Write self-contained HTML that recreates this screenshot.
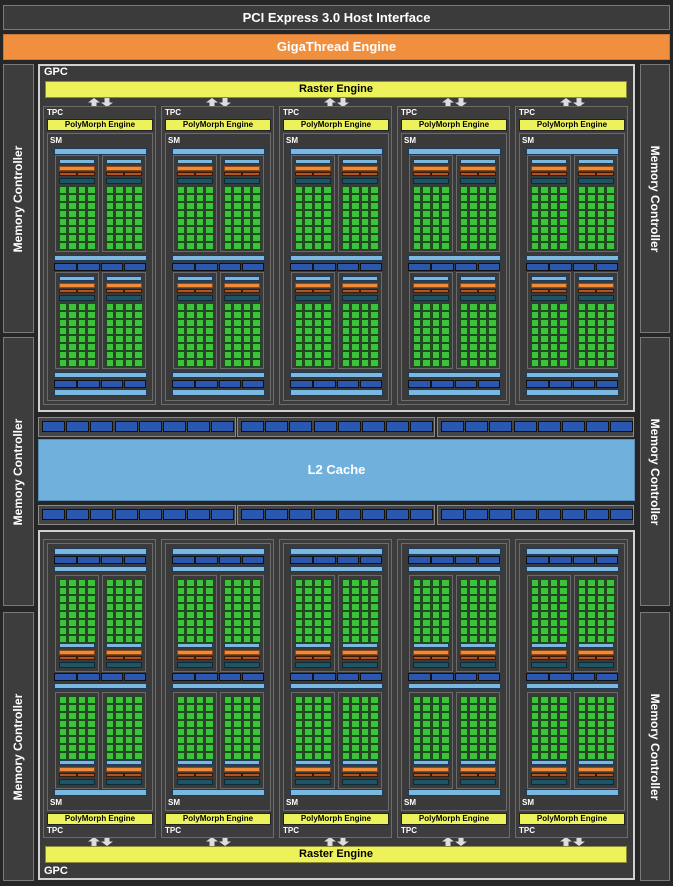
<!DOCTYPE html>
<html><head><meta charset="utf-8">
<style>
html,body{margin:0;padding:0;background:#262626;width:673px;height:886px;overflow:hidden}
#c{position:relative;width:673px;height:886px;font-family:"Liberation Sans",sans-serif;font-weight:bold}
#c div{position:absolute;box-sizing:border-box}
#c svg{display:block}
.t{color:#fff;white-space:nowrap}
</style></head><body><div id="c"></div>
<script>
var h='';
function R(x,y,w,hh,bg,bd,extra){h+='<div style="left:'+x+'px;top:'+y+'px;width:'+w+'px;height:'+hh+'px;background:'+bg+';'+(bd?'border:1px solid '+bd+';':'')+(extra||'')+'"></div>';}
function T(x,y,w,hh,txt,size,col,extra){h+='<div class="t" style="left:'+x+'px;top:'+y+'px;width:'+w+'px;height:'+hh+'px;line-height:'+hh+'px;font-size:'+size+'px;color:'+col+';'+(extra||'')+'">'+txt+'</div>';}
R(3,5,667,25,'#3b3b3b','#7a7a7a');
T(3,5,667,25,'PCI Express 3.0 Host Interface',13,'#fff','text-align:center');
R(3,34,667,26,'#f0903f','#c9773a');
T(3,34,667,26,'GigaThread Engine',13,'#fff','text-align:center');
var mcy=[[64,269],[337,269],[612,269]];
for(var k=0;k<3;k++){
 R(3,mcy[k][0],31,mcy[k][1],'#3d3d3d','#7a7a7a');
 R(640,mcy[k][0],30,mcy[k][1],'#3d3d3d','#7a7a7a');
 var cy=mcy[k][0]+mcy[k][1]/2;
 T(18-100,cy-8,200,16,'Memory Controller',12,'#fff','text-align:center;transform:rotate(-90deg)');
 T(655-100,cy-8,200,16,'Memory Controller',12,'#fff','text-align:center;transform:rotate(90deg)');
}
function XB(y){
 var segs=[[38,198],[237,198],[437,197]];
 for(var s=0;s<3;s++){
  R(segs[s][0],y,segs[s][1],20,'#444','#8a8a8a');
  for(var j=0;j<8;j++)R(segs[s][0]+4+j*24.2,y+4,23,11,'#2a58b0','#111');
 }
}
XB(417);XB(505);
R(38,439,597,62,'#6fb0dc','#5a8fb5');
T(38,439,597,62,'L2 Cache',13,'#fff','text-align:center');
var LB='#7ab8e0',LBB='#1f3b5c',BL='#2a58b0',GR='#3ac43a';
function cluster(x,y,top){
 R(x,y,44,97,'#3a3a3a','#6a6a6a');
 var g,o;
 if(top){o=y;g=y+31;}else{g=y+4;o=y+64;}
 R(x+4,o+4,36,5,LB,LBB);
 R(x+4,o+11,36,5,'#f08b3a','#8a4a1a');
 R(x+4,o+17,18,4,'#b2541e','#3a1a0a');R(x+22,o+17,18,4,'#b2541e','#3a1a0a');
 R(x+4,o+23,36,6,'#1e5566','#0e2a33');
 for(var r=0;r<8;r++)for(var c=0;c<4;c++)R(x+3.5+c*9.6,g+r*8,8.5,7.5,GR,'#1e4a1e');
}
function gpc(flip){
 var Y=function(y,hh){return flip?944-y-hh:y;};
 R(38,Y(64,348),597,flip?350:348,'#3b3b3b','#d0d0d0','border-width:2px;'+(flip?'top:530px;':''));
 T(44,flip?864:65,40,15,'GPC',11,'#fff');
 R(45,Y(81,17),582,17,'#eef25a','#8a8a3a');
 T(45,Y(81,17),582,17,'Raster Engine',11,'#000','text-align:center');
 for(var i=0;i<5;i++){
  var x=43+i*118;
  var ay=Y(98,9);
  h+='<div style="left:'+(x+45)+'px;top:'+ay+'px;width:26px;height:9px"><svg width="26" height="9"><polygon points="0,4.5 6,0 12,4.5 8.5,4.5 8.5,9 3.5,9 3.5,4.5" fill="#ddd"/><polygon points="13,4.5 19,9 25,4.5 21.5,4.5 21.5,0 16.5,0 16.5,4.5" fill="#ddd"/></svg></div>';
  R(x,Y(106,299),113,299,'#3d3d3d','#6c6c6c');
  T(x+4,Y(108,10),40,10,'TPC',8,'#fff');
  R(x+4,Y(119,12),106,12,'#eef25a','#222');
  T(x+4,Y(119,12),106,12,'PolyMorph Engine',8,'#000','text-align:center');
  R(x+4,Y(133,268),106,268,'#3a3a3a','#6c6c6c');
  T(x+7,Y(136,10),40,10,'SM',8,'#fff');
  R(x+11,Y(148,7),93,7,LB,LBB);
  cluster(x+12,Y(155,97),!flip);cluster(x+59,Y(155,97),!flip);
  R(x+11,Y(255,6),93,6,LB,LBB);
  for(var j=0;j<4;j++)R(x+11+j*23.3,Y(263,8),22.5,8,BL,'#111');
  cluster(x+12,Y(272,97),!flip);cluster(x+59,Y(272,97),!flip);
  R(x+11,Y(372,6),93,6,LB,LBB);
  for(var j=0;j<4;j++)R(x+11+j*23.3,Y(380,8),22.5,8,BL,'#111');
  R(x+11,Y(389,7),93,7,LB,LBB);
 }
}
gpc(false);gpc(true);
document.getElementById('c').innerHTML=h;
</script></body></html>
